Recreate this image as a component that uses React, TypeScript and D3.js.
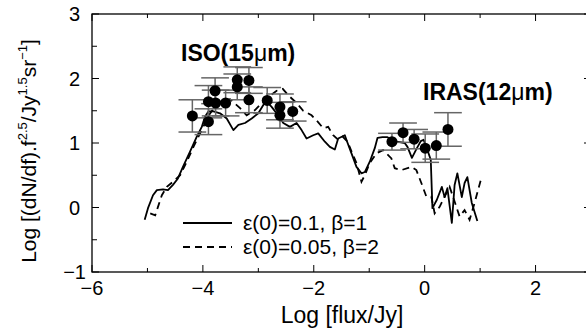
import * as d3 from 'd3';

// ISO (15 micron) counts: log flux, log value, y error
const isoX = [-4.19, -3.9, -3.9, -3.78, -3.77, -3.59, -3.38, -3.38, -3.17, -3.17, -2.84, -2.61, -2.61, -2.38];
const isoY = [1.42, 1.33, 1.64, 1.81, 1.62, 1.62, 1.98, 1.87, 1.97, 1.67, 1.66, 1.56, 1.43, 1.49];
const isoErr = [0.25, 0.2, 0.25, 0.2, 0.2, 0.2, 0.2, 0.2, 0.2, 0.2, 0.2, 0.2, 0.2, 0.15];

// IRAS (12 micron) counts
const irasX = [-0.59, -0.39, -0.19, 0.01, 0.21, 0.42];
const irasY = [1.02, 1.16, 1.06, 0.92, 0.96, 1.21];
const irasErr = [0.13, 0.15, 0.15, 0.22, 0.21, 0.26];

// model: eps(0)=0.1, beta=1
const solidX = [-5.05, -4.99, -4.9, -4.83, -4.72, -4.63, -4.54, -4.45, -4.36, -4.23, -4.11, -4.02, -3.96, -3.9, -3.81,
  -3.69, -3.57, -3.45, -3.36, -3.24, -3.12, -3.0, -2.91, -2.85, -2.76, -2.67, -2.55, -2.43, -2.31, -2.22, -2.13,
  -2.01, -1.92, -1.8, -1.71, -1.62, -1.56, -1.44, -1.39, -1.32, -1.23, -1.14, -1.08, -0.99, -0.9, -0.85, -0.76,
  -0.67, -0.5, -0.36, -0.31, -0.23, -0.14, -0.07, -0.02, 0.05, 0.11, 0.14, 0.22, 0.31, 0.36, 0.41, 0.49, 0.54,
  0.59, 0.67, 0.72, 0.77, 0.85, 0.9, 0.95];
const solidY = [-0.19, -0.01, 0.19, 0.27, 0.28, 0.27, 0.35, 0.45, 0.63, 0.87, 1.1, 1.25, 1.41, 1.49, 1.49,
  1.46, 1.38, 1.2, 1.28, 1.31, 1.38, 1.46, 1.59, 1.64, 1.56, 1.46, 1.31, 1.25, 1.31, 1.2, 1.07,
  1.12, 1.15, 1.02, 0.94, 0.9, 1.07, 1.12, 1.0, 0.84, 0.63, 0.53, 0.55, 0.71, 0.92, 1.08, 1.09,
  1.09, 1.02, 1.0, 0.94, 0.77, 0.92, 1.03, 1.05, 0.89, 0.74, -0.01, 0.12, 0.32, 0.16, 0.3, -0.24, 0.35,
  0.53, 0.16, 0.38, 0.47, 0.07, -0.07, -0.21];

// model: eps(0)=0.05, beta=2
const dashX = [-4.95, -4.86, -4.81, -4.74, -4.65, -4.54, -4.41, -4.29, -4.17, -4.05, -3.96, -3.87, -3.78, -3.66,
  -3.51, -3.33, -3.21, -3.06, -2.94, -2.82, -2.67, -2.56, -2.46, -2.31, -2.19, -2.04, -1.93, -1.83, -1.74, -1.65,
  -1.56, -1.48, -1.39, -1.32, -1.23, -1.14, -1.08, -0.99, -0.87, -0.75, -0.6, -0.54, -0.42, -0.24, -0.15, -0.06,
  0.03, 0.12, 0.18, 0.27, 0.36, 0.45, 0.51, 0.63, 0.72, 0.81, 0.9, 1.02];
const dashY = [-0.09, -0.12, 0.01, 0.19, 0.32, 0.4, 0.5, 0.71, 0.94, 1.15, 1.31, 1.46, 1.56, 1.65,
  1.68, 1.54, 1.43, 1.51, 1.62, 1.71, 1.81, 1.84, 1.74, 1.62, 1.5, 1.43, 1.33, 1.23, 1.25, 1.12,
  1.05, 1.1, 1.02, 0.87, 0.69, 0.4, 0.5, 0.69, 0.84, 0.89, 0.76, 0.61, 0.58, 0.63, 0.58, 0.38,
  0.17, 0.17, -0.09, 0.01, 0.17, 0.32, 0.17, -0.14, -0.04, -0.19, 0.07, 0.45];

const xTicks = [-6, -4, -2, 0, 2];
const yTicks = [-1, 0, 1, 2, 3];
const legendLabels = ['ε(0)=0.1, β=1', 'ε(0)=0.05, β=2'];

const W = 586;
const H = 332;
const font = '"Liberation Sans", Arial, sans-serif';

export default function App() {
  const x = d3.scaleLinear().domain([-6, 3]).range([92, 591]);
  const y = d3.scaleLinear().domain([-1, 3]).range([272, 14]);

  const line = d3.line<[number, number]>()
    .x(d => x(d[0]))
    .y(d => y(d[1]));

  const solid = solidX.map((v, i) => [v, solidY[i]] as [number, number]);
  const dashed = dashX.map((v, i) => [v, dashY[i]] as [number, number]);

  const points = [
    ...isoX.map((v, i) => ({ x: v, y: isoY[i], e: isoErr[i] })),
    ...irasX.map((v, i) => ({ x: v, y: irasY[i], e: irasErr[i] })),
  ];
  const capHalf = 0.25;

  const minorX = d3.range(-6, 3.01, 1);
  const minorY = d3.range(-1, 3.01, 0.5);

  return (
    <svg width={W} height={H} style={{ position: 'absolute', left: 0, top: 0, background: '#fff' }}
      fontFamily={font}>
      {/* frame */}
      <rect x={x(-6)} y={y(3)} width={x(3) - x(-6)} height={y(-1) - y(3)}
        fill="none" stroke="#000" strokeWidth={1.3} />

      {/* ticks, inward on all sides */}
      {minorX.map(t => {
        const len = Math.round(t) % 2 === 0 ? 7 : 4;
        return (
          <g key={'xt' + t} stroke="#000" strokeWidth={1}>
            <line x1={x(t)} x2={x(t)} y1={y(-1)} y2={y(-1) - len} />
            <line x1={x(t)} x2={x(t)} y1={y(3)} y2={y(3) + len} />
          </g>
        );
      })}
      {minorY.map(t => {
        const len = Number.isInteger(t) ? 7 : 5;
        return (
          <g key={'yt' + t} stroke="#000" strokeWidth={1}>
            <line x1={x(-6)} x2={x(-6) + len} y1={y(t)} y2={y(t)} />
            <line x1={x(3)} x2={x(3) - len} y1={y(t)} y2={y(t)} />
          </g>
        );
      })}

      {xTicks.map(t => (
        <text key={'xl' + t} x={x(t)} y={y(-1) + 23} fontSize={20} textAnchor="middle">
          {t < 0 ? '−' + Math.abs(t) : t}
        </text>
      ))}
      {yTicks.map(t => (
        <text key={'yl' + t} x={t < 0 ? 86 : 80} y={y(t) + 7} fontSize={20} textAnchor="end">
          {t < 0 ? '−' + Math.abs(t) : t}
        </text>
      ))}

      {/* axis titles */}
      <text x={342} y={323} fontSize={23} textAnchor="middle">Log [flux/Jy]</text>
      <text transform={`translate(36,${(y(3) + y(-1)) / 2 + 8}) rotate(-90)`} fontSize={21} textAnchor="middle">
        Log [(dN/df).f<tspan dy={-9} fontSize={13}>2.5</tspan>
        <tspan dy={9}>/Jy</tspan><tspan dy={-9} fontSize={13}>1.5</tspan>
        <tspan dy={9}>sr</tspan><tspan dy={-9} fontSize={13}>−1</tspan>
        <tspan dy={9}>]</tspan>
      </text>

      {/* model curves */}
      <path d={line(solid) ?? ''} fill="none" stroke="#000" strokeWidth={1.8} strokeLinejoin="round" />
      <path d={line(dashed) ?? ''} fill="none" stroke="#000" strokeWidth={1.8} strokeDasharray="7,5" />

      {/* error bars */}
      {points.map((p, i) => (
        <g key={'e' + i} stroke="#666" strokeWidth={1.5}>
          <line x1={x(p.x)} x2={x(p.x)} y1={y(p.y - p.e)} y2={y(p.y + p.e)} />
          <line x1={x(p.x - capHalf)} x2={x(p.x + capHalf)} y1={y(p.y - p.e)} y2={y(p.y - p.e)} />
          <line x1={x(p.x - capHalf)} x2={x(p.x + capHalf)} y1={y(p.y + p.e)} y2={y(p.y + p.e)} />
        </g>
      ))}
      {points.map((p, i) => (
        <circle key={'p' + i} cx={x(p.x)} cy={y(p.y)} r={5.5} fill="#000" />
      ))}

      {/* labels */}
      <text x={181} y={61} fontSize={23} fontWeight="bold">ISO(15<tspan fontWeight="normal">μ</tspan>m)</text>
      <text x={423} y={100} fontSize={23} fontWeight="bold">IRAS(12<tspan fontWeight="normal">μ</tspan>m)</text>

      {/* legend */}
      <g>
        <line x1={183} x2={232} y1={223} y2={223} stroke="#000" strokeWidth={1.8} />
        <line x1={183} x2={232} y1={247} y2={247} stroke="#000" strokeWidth={1.8} strokeDasharray="7,5" />
        <text x={243} y={230} fontSize={21}>{legendLabels[0]}</text>
        <text x={243} y={254} fontSize={21}>{legendLabels[1]}</text>
      </g>
    </svg>
  );
}
